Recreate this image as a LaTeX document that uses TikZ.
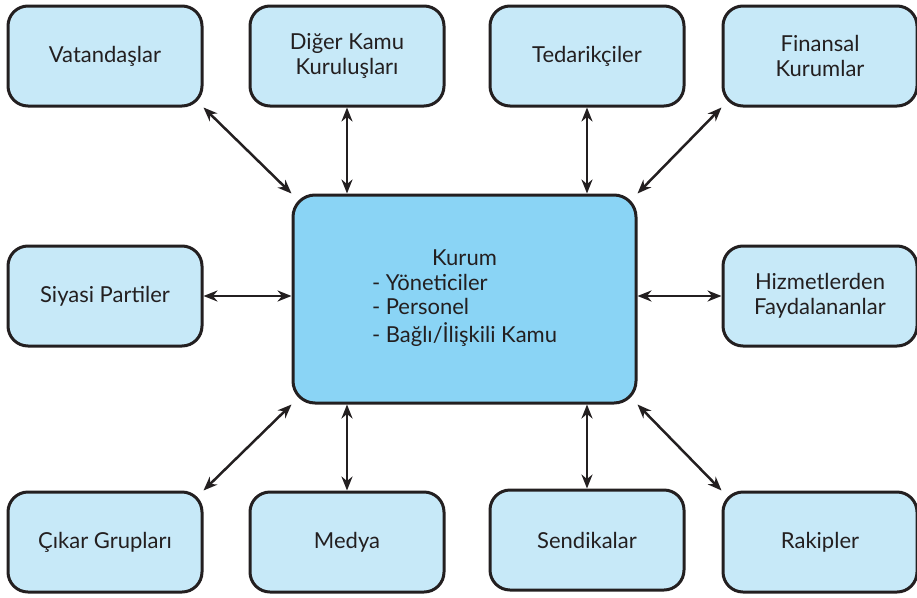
\documentclass[tikz,border=0pt]{standalone}
\usepackage{fontspec}
\setmainfont{Lato}
\usetikzlibrary{arrows.meta}
\definecolor{boxfill}{HTML}{C7E9F8}
\definecolor{mainfill}{HTML}{8AD4F5}
\definecolor{edge}{HTML}{231F20}
\begin{document}
\begin{tikzpicture}[x=1pt,y=-1pt,
  outer/.style={draw=edge,line width=3pt,fill=boxfill,rounded corners=20pt,
    minimum width=194pt,minimum height=100pt,align=center,inner sep=0pt,
    font=\fontsize{22}{25}\selectfont,text=edge},
  center/.style={draw=edge,line width=3pt,fill=mainfill,rounded corners=22pt,
    minimum width=343pt,minimum height=208pt,inner sep=0pt,
    font=\fontsize{22}{24.5}\selectfont,text=edge},
  link/.style={line width=2.5pt,draw=edge,{Stealth[length=14pt,width=11pt]}-{Stealth[length=14pt,width=11pt]}}]
\useasboundingbox (0,0) rectangle (917,597);
\node[outer] (vat) at (105,56) {Vatandaşlar};
\node[outer] (dig) at (347,56) {Diğer Kamu\\Kuruluşları};
\node[outer] (ted) at (587,56) {Tedarikçiler};
\node[outer] (fin) at (820,56) {Finansal\\Kurumlar};
\node[outer] (siy) at (105,296) {Siyasi Partiler};
\node[center] (kur) at (464.5,299) {\begin{tabular}{@{}l@{}}\multicolumn{1}{@{}c@{}}{Kurum}\\- Yöneticiler\\- Personel\\- Bağlı/İlişkili Kamu\end{tabular}};
\node[outer] (hiz) at (820,296) {Hizmetlerden\\Faydalananlar};
\node[outer] (cik) at (105,542) {Çıkar Grupları};
\node[outer] (med) at (347,542) {Medya};
\node[outer] (sen) at (587,540) {Sendikalar};
\node[outer] (rak) at (820,542) {Rakipler};
\draw[link] (vat.south east) -- (kur.north west);
\draw[link] (dig.south) -- (dig.south |- kur.north);
\draw[link] (ted.south) -- (ted.south |- kur.north);
\draw[link] (fin.south west) -- (kur.north east);
\draw[link] (siy.east) -- (siy.east -| kur.west);
\draw[link] (hiz.west) -- (hiz.west -| kur.east);
\draw[link] (cik.north east) -- (kur.south west);
\draw[link] (med.north) -- (med.north |- kur.south);
\draw[link] (sen.north) -- (sen.north |- kur.south);
\draw[link] (rak.north west) -- (kur.south east);
\end{tikzpicture}
\end{document}
